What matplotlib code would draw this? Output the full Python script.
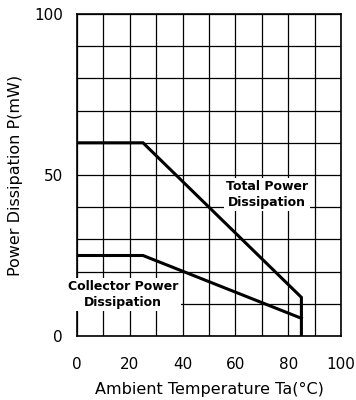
import numpy as np
import matplotlib.pyplot as plt

# derating curves
total_x = [0, 25, 85, 85]
total_y = [60, 60, 12, 0]
coll_x = [0, 25, 85]
coll_y = [25, 25, 5.5]

x_ticks = [0, 20, 40, 60, 80, 100]
y_ticks = [0, 50, 100]

fig = plt.figure(figsize=(3.56, 4.0), dpi=100)
ax = fig.add_axes([77/356, 64/400, 264/356, 322/400])

ax.plot(total_x, total_y, color='black', lw=2.2, solid_joinstyle='miter', zorder=3)
ax.plot(coll_x, coll_y, color='black', lw=2.2, solid_joinstyle='miter', zorder=3)

ax.set_xlim(0, 100)
ax.set_ylim(0, 100)
ax.set_xticks(x_ticks)
ax.set_yticks(y_ticks)
ax.set_xticks(np.arange(0, 101, 10), minor=True)
ax.set_yticks(np.arange(0, 101, 10), minor=True)
ax.grid(which='both', color='black', lw=0.9)
ax.tick_params(which='both', length=0, labelsize=11)
ax.tick_params(axis='x', pad=15)
ax.tick_params(axis='y', pad=10)
for s in ax.spines.values():
    s.set_linewidth(1.2)

ax.set_xlabel("Ambient Temperature Ta(\u00b0C)", fontsize=11.5, labelpad=7)
ax.set_ylabel("Power Dissipation P(mW)", fontsize=11.5, labelpad=8)

box = dict(facecolor='white', edgecolor='none', pad=1.5)
ax.text(72, 44, "Total Power\nDissipation", ha='center', va='center',
        fontsize=9, fontweight='bold', linespacing=1.3, bbox=box, zorder=4)
ax.text(17.5, 13, "Collector Power\nDissipation", ha='center', va='center',
        fontsize=9, fontweight='bold', linespacing=1.3, bbox=box, zorder=4)

plt.savefig("out.png", dpi=100)
plt.close()
